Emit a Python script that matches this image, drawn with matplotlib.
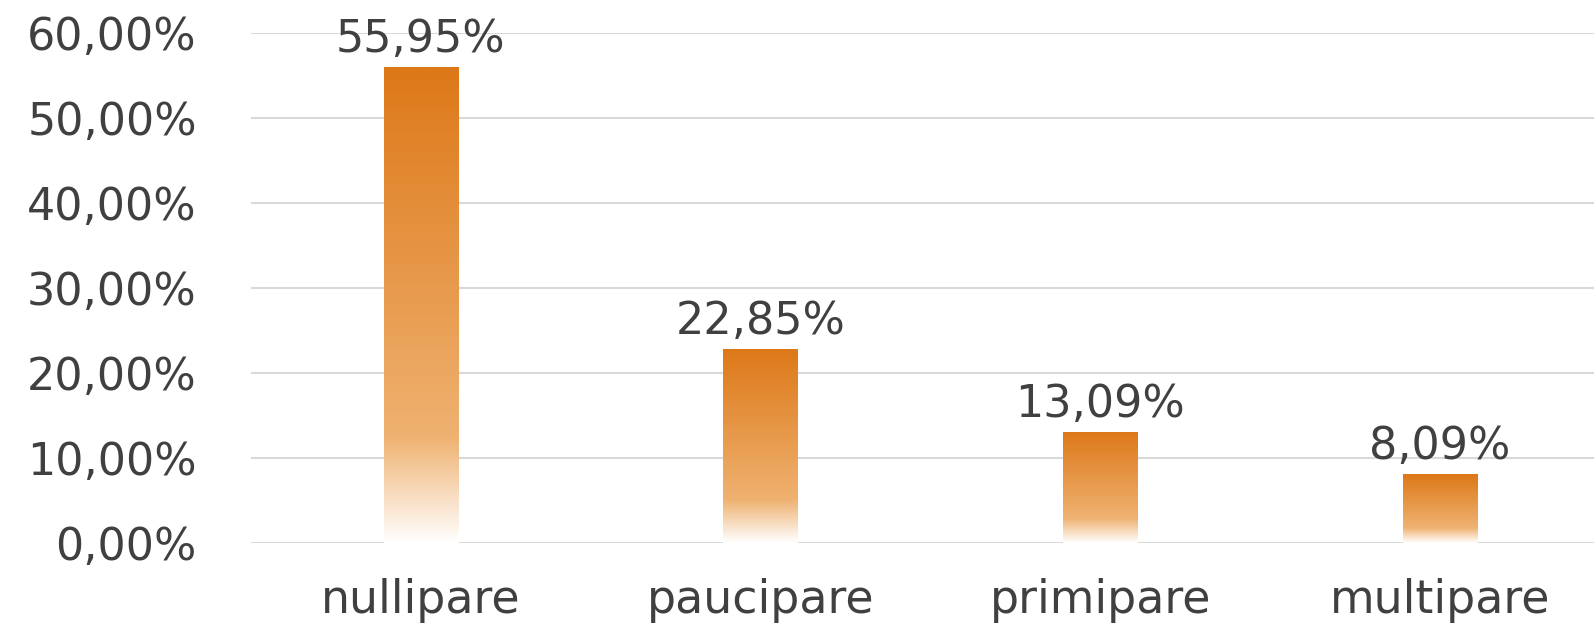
import numpy as np
import matplotlib
matplotlib.use('Agg')
import matplotlib.pyplot as plt
from matplotlib.colors import LinearSegmentedColormap

categories = ['nullipare', 'paucipare', 'primipare', 'multipare']
values = [55.95, 22.85, 13.09, 8.09]
yticks = [0, 10, 20, 30, 40, 50, 60]

text_col = '#404040'
plt.rcParams['font.family'] = ['DejaVu Sans']

# orange at the top, fading to white at the base of each bar
grad = LinearSegmentedColormap.from_list(
    'bar_fade', [(0.0, '#FFFFFF'), (0.22, '#EFB271'), (1.0, '#DD7818')])

fig = plt.figure(figsize=(15.94, 6.25), dpi=100)
ax = fig.add_axes([251 / 1594, 1 - 543 / 625, 1 - 251 / 1594, (543 - 33) / 625])

x = np.arange(len(categories))
width = 0.22
bars = ax.bar(x, values, width=width, color='none', edgecolor='none', zorder=2)
g = np.linspace(0, 1, 256).reshape(-1, 1)
for rect, v in zip(bars, values):
    x0 = rect.get_x()
    im = ax.imshow(g, cmap=grad, aspect='auto', origin='lower',
                   extent=[x0, x0 + rect.get_width(), 0, v], zorder=2)
    im.set_clip_path(rect)
    ax.text(rect.get_x() + rect.get_width() / 2, v + 0.7,
            ('%.2f%%' % v).replace('.', ','), ha='center', va='bottom',
            fontsize=32, color=text_col)

ax.set_xlim(-0.5, 3 + (1594 - 1440) / 340)
ax.set_ylim(0, 60)
ax.set_yticks(yticks)
ax.set_yticklabels([('%.2f%%' % t).replace('.', ',') for t in yticks])
ax.set_xticks(x)
ax.set_xticklabels(categories)
ax.tick_params(axis='y', length=0, pad=39, labelsize=32, labelcolor=text_col)
ax.tick_params(axis='x', length=0, pad=25, labelsize=33, labelcolor=text_col)
ax.grid(axis='y', color='#D9D9D9', linewidth=1.5, zorder=0)
ax.set_axisbelow(True)
for s in ax.spines.values():
    s.set_visible(False)

fig.savefig('out.png', dpi=100)
